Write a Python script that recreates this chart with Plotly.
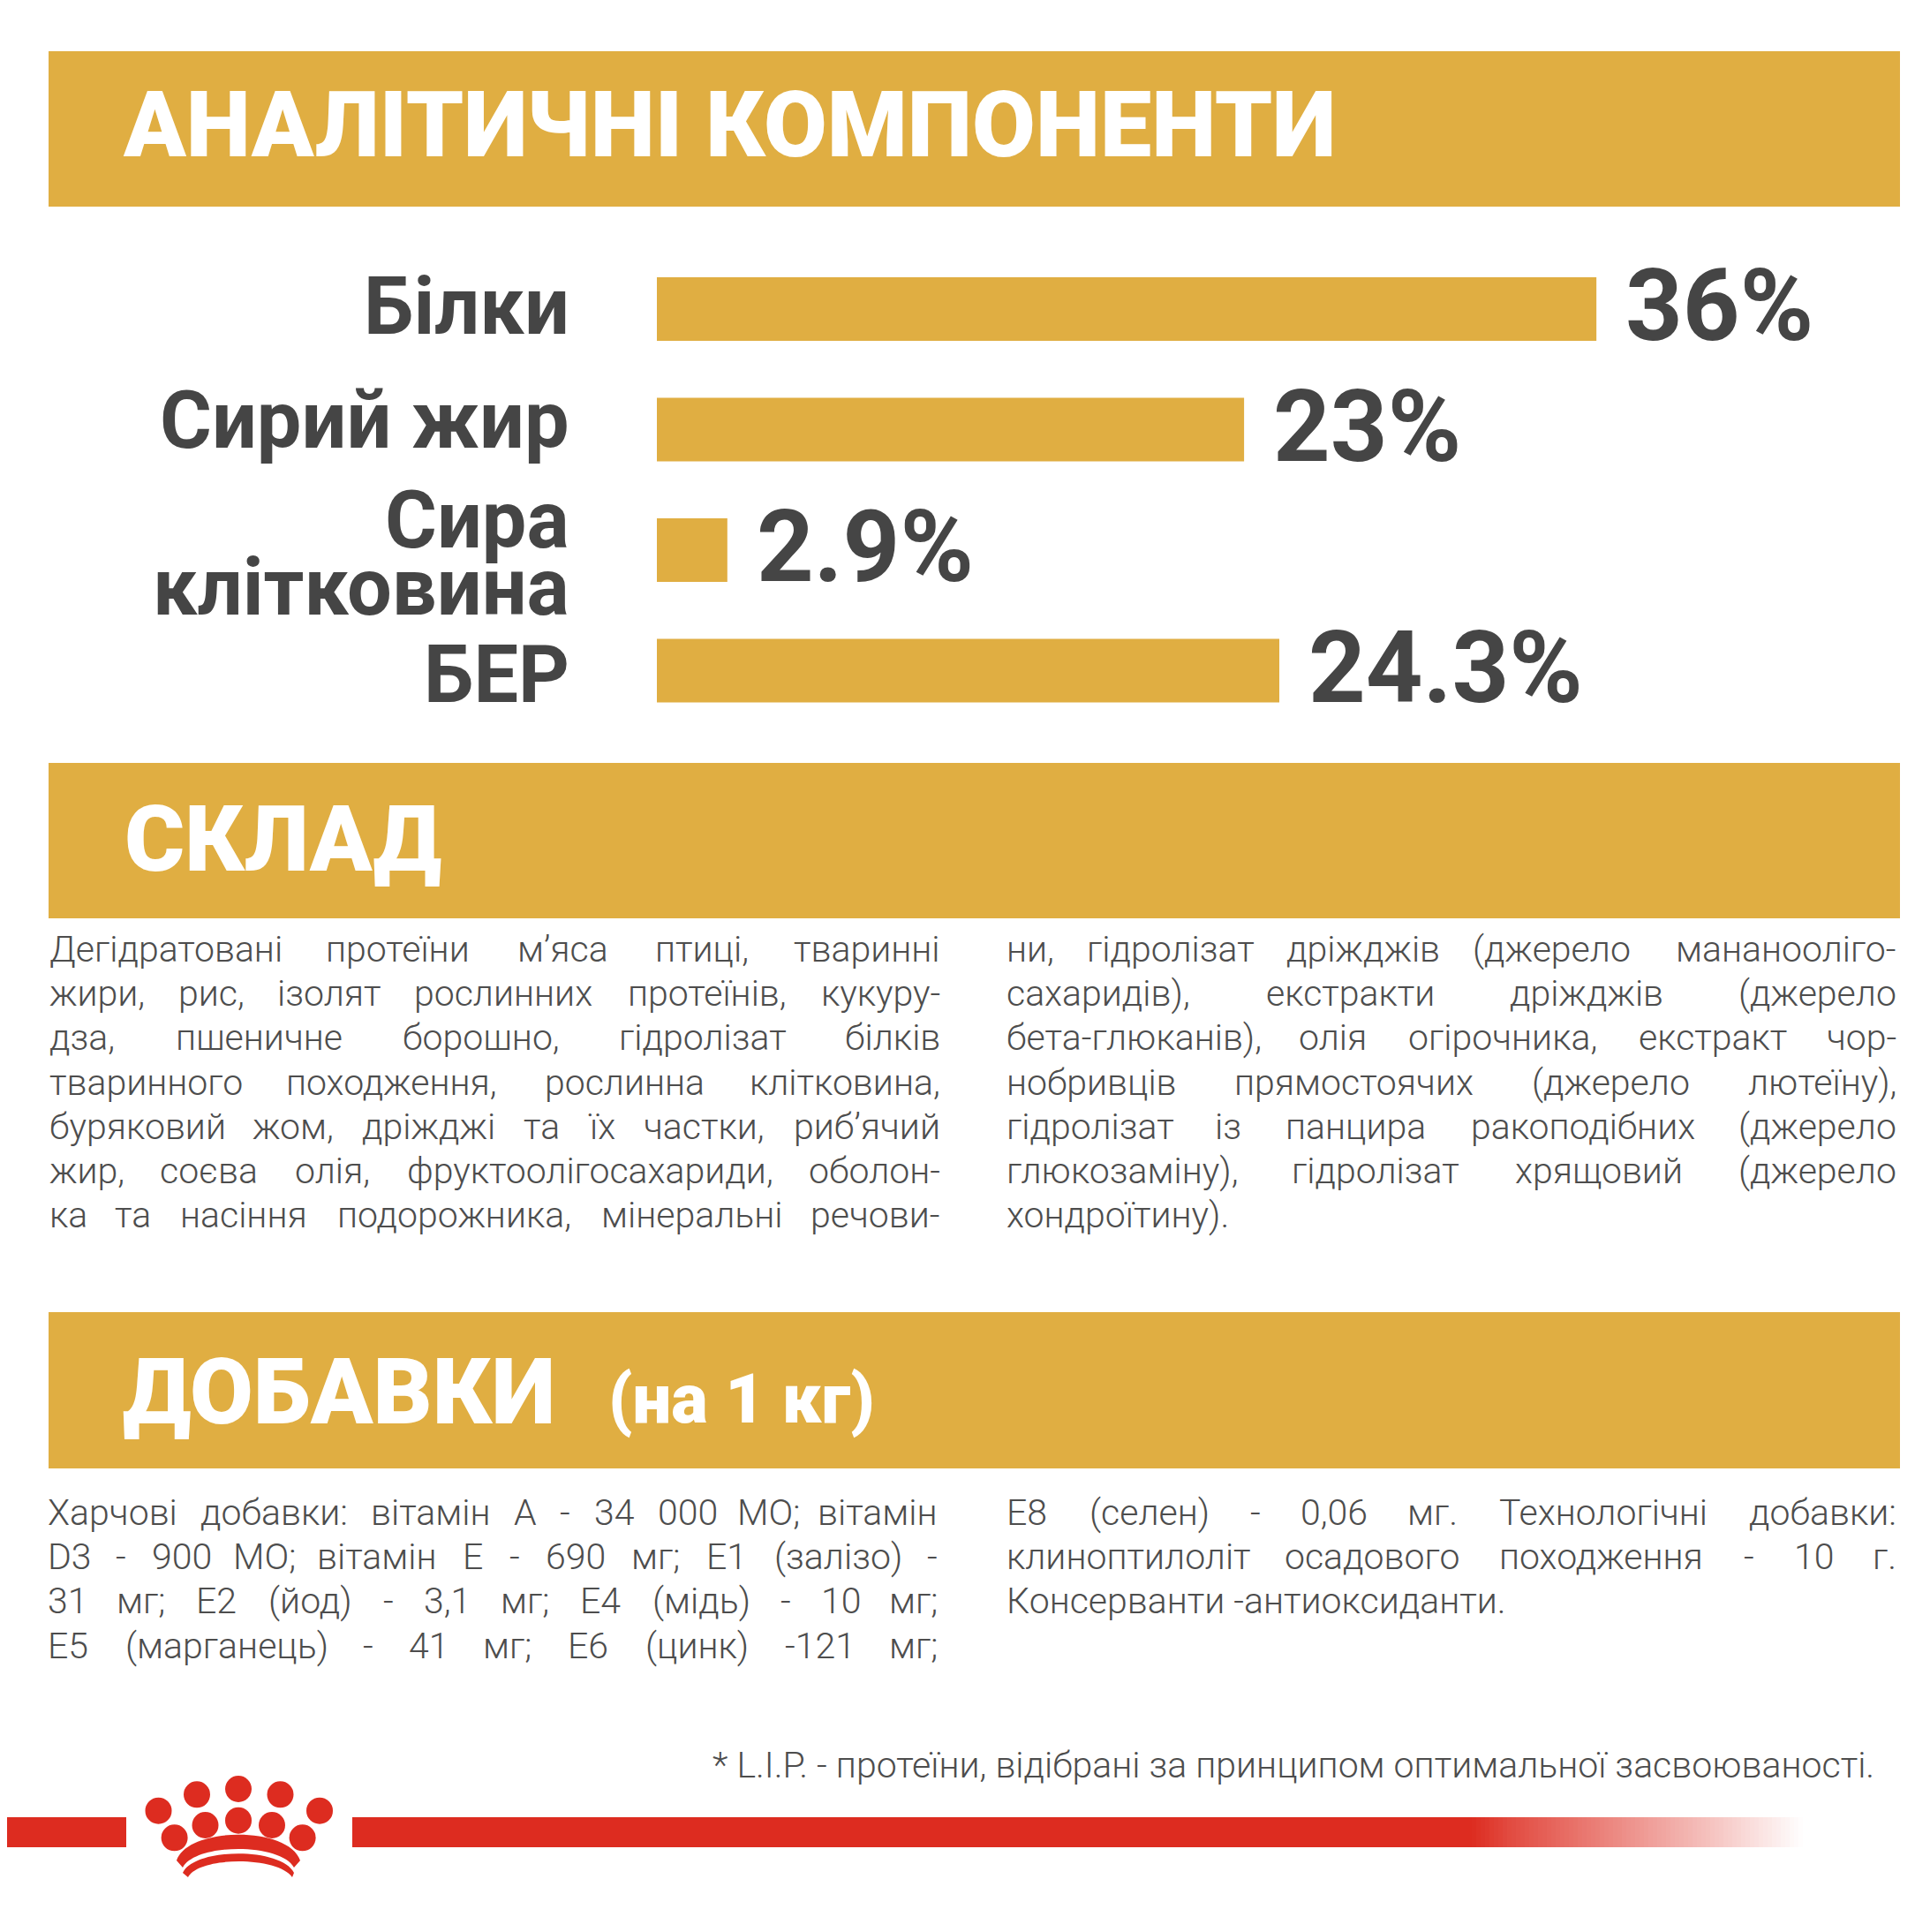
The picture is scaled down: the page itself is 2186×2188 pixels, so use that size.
import plotly.graph_objects as go

W, H = 2186, 2188
GOLD = "#e0ae42"
RED = "#dd2c20"
DARK = "#454545"
BODY = "#4d4d4d"
FONT = "Roboto"

categories = ["Білки", "Сирий жир", "Сира клітковина", "БЕР"]
category_lines = [["Білки"], ["Сирий жир"], ["Сира", "клітковина"], ["БЕР"]]
value_labels = ["36%", "23%", "2.9%", "24.3%"]
bar_lengths = [36, 22.5, 2.7, 23.85]

headers = ["АНАЛІТИЧНІ КОМПОНЕНТИ", "СКЛАД", "ДОБАВКИ"]
header_note = "(на 1 кг)"

comp_left = [
    "Дегідратовані протеїни м’яса птиці, тваринні",
    "жири, рис, ізолят рослинних протеїнів, кукуру-",
    "дза, пшеничне борошно, гідролізат білків",
    "тваринного походження, рослинна клітковина,",
    "буряковий жом, дріжджі та їх частки, риб’ячий",
    "жир, соєва олія, фруктоолігосахариди, оболон-",
    "ка та насіння подорожника, мінеральні речови-",
]
comp_right = [
    "ни, гідролізат дріжджів (джерело мананоолiго-",
    "сахаридів), екстракти дріжджів (джерело",
    "бета-глюканів), олія огірочника, екстракт чор-",
    "нобривців прямостоячих (джерело лютеїну),",
    "гідролізат із панцира ракоподібних (джерело",
    "глюкозаміну), гідролізат хрящовий (джерело",
    "хондроїтину).",
]
add_left = [
    "Харчові добавки: вітамін А - 34 000 МО; вітамін",
    "D3 - 900 МО; вітамін Е - 690 мг; Е1 (залізо) -",
    "31 мг; Е2 (йод) - 3,1 мг; Е4 (мідь) - 10 мг;",
    "Е5 (марганець) - 41 мг; Е6 (цинк) -121 мг;",
]
add_right = [
    "Е8 (селен) - 0,06 мг. Технологічні добавки:",
    "клиноптилоліт осадового походження - 10 г.",
    "Консерванти -антиоксиданти.",
]
footnote = "* L.I.P. - протеїни, відібрані за принципом оптимальної засвоюваності."


def px(x):
    return x / W


def py(y):
    return 1 - y / H


CHAR_W = dict(
    а=.54, б=.55, в=.53, г=.38, д=.57, е=.53, є=.53, ж=.74, з=.51, и=.57, і=.25, ї=.25, й=.57,
    к=.52, л=.55, м=.72, н=.57, о=.55, п=.57, р=.56, с=.52, т=.43, у=.48, ф=.72, х=.5, ц=.58,
    ч=.54, ш=.79, щ=.8, ь=.52, ю=.74, я=.53,
)
CHAR_W.update({",": .2, ".": .26, "-": .28, "(": .33, ")": .33, "’": .2, ":": .24, ";": .22})


def word_width(word, size):
    total = 0
    for c in word:
        if c in CHAR_W:
            total += CHAR_W[c]
        elif c.isdigit():
            total += .56
        else:
            total += .64
    return total * size


fig = go.Figure(
    go.Bar(
        x=bar_lengths,
        y=categories,
        orientation="h",
        marker=dict(color=GOLD, line=dict(width=0)),
        hoverinfo="skip",
    )
)

shapes = []
annotations = []


def rect(x0, y0, x1, y1, color, layer="below"):
    shapes.append(dict(type="rect", xref="paper", yref="paper", x0=px(x0), x1=px(x1),
                       y0=py(y1), y1=py(y0), fillcolor=color, line=dict(width=0), layer=layer))


def text(s, x, y, size, color, anchor="left", weight=400):
    annotations.append(dict(text=s, xref="paper", yref="paper", x=px(x), y=py(y),
                            xanchor=anchor, yanchor="middle", showarrow=False, borderpad=0,
                            font=dict(family=FONT, size=size, color=color, weight=weight)))


# Section bands
for top, bottom in [(50, 226), (856, 1032), (1478, 1655)]:
    rect(47, top, 2144, bottom, GOLD)

text(headers[0], 130, 133, 104, "#ffffff", weight=900)
text(headers[1], 132, 943, 104, "#ffffff", weight=900)
text(headers[2], 130, 1568, 104, "#ffffff", weight=900)
text(header_note, 680, 1576, 78, "#ffffff", weight=900)

# Category labels
label_centres = [[340], [468], [582, 657], [756]]
for lines, centres in zip(category_lines, label_centres):
    for line, cy in zip(lines, centres):
        text(line, 638, cy, 90, DARK, anchor="right", weight=700)

# Value labels follow the bars through the x axis
for cat, val, length in zip(categories, value_labels, bar_lengths):
    annotations.append(dict(text=val, xref="x", yref="y", x=length, y=cat, xshift=32, yshift=3,
                            xanchor="left", yanchor="middle", showarrow=False, borderpad=0,
                            font=dict(family=FONT, size=113, color=DARK, weight=700)))

BODY_SIZE = 41


def justified(lines, left, right, first_cy, justify_last):
    for i, line in enumerate(lines):
        cy = first_cy + i * 50.2
        if i == len(lines) - 1 and not justify_last:
            text(line, left, cy, BODY_SIZE, BODY, weight=300)
            continue
        words = line.split(" ")
        widths = [word_width(w, BODY_SIZE) for w in words]
        gap = (right - left - sum(widths)) / (len(words) - 1)
        cursor = left
        for j, (word, w) in enumerate(zip(words, widths)):
            if j == 0:
                text(word, left, cy, BODY_SIZE, BODY, weight=300)
            elif j == len(words) - 1:
                text(word, right, cy, BODY_SIZE, BODY, anchor="right", weight=300)
            else:
                text(word, cursor + w / 2, cy, BODY_SIZE, BODY, anchor="center", weight=300)
            cursor += w + gap


justified(comp_left, 47, 1058, 1067, True)
justified(comp_right, 1131, 2141, 1067, False)
justified(add_left, 45, 1055, 1705, True)
justified(add_right, 1131, 2141, 1705, False)
text(footnote, 2116, 1991, BODY_SIZE, BODY, anchor="right", weight=300)

# Red ribbon with fade
rect(0, 2050, 1659, 2084, RED)
fade_stops = [(1659, 1.0), (1700, .86), (1784, .65), (1924, .3), (2035, 0.0)]
STEP = 5
for x in range(1659, 2035, STEP):
    alpha = 0.0
    for (a, aa), (b, ab) in zip(fade_stops, fade_stops[1:]):
        if a <= x < b:
            alpha = max(0.0, aa + (ab - aa) * (x + STEP / 2 - a) / (b - a))
            break
    rect(x, 2050, x + STEP, 2084, f"rgba(221,44,32,{alpha:.3f})")

# Crown logo
rect(135, 2045, 391, 2090, "#ffffff")
crown_x = [262, 215, 309.5, 171.5, 354, 262, 224.5, 300, 189.6, 334.6]
crown_y = [2018, 2024.3, 2024.3, 2042.7, 2042.7, 2053.7, 2059, 2059, 2073.3, 2073.3]
R = 15
for cx, cy in zip(crown_x, crown_y):
    shapes.append(dict(type="circle", xref="paper", yref="paper", x0=px(cx - R), x1=px(cx + R),
                       y0=py(cy + R), y1=py(cy - R), fillcolor=RED, line=dict(width=0)))


def p(x, y):
    return f"{px(x):.5f},{py(y):.5f}"


for d in [
    f"M{p(192, 2099)} C{p(205, 2060)} {p(319, 2060)} {p(332, 2099)} L{p(325, 2107)} "
    f"C{p(310, 2079)} {p(214, 2079)} {p(199, 2107)} Z",
    f"M{p(199, 2113)} C{p(213, 2084)} {p(311, 2084)} {p(325, 2113)} L{p(323, 2118)} "
    f"C{p(307, 2094)} {p(217, 2094)} {p(205, 2118)} Z",
]:
    shapes.append(dict(type="path", xref="paper", yref="paper", path=d, fillcolor=RED, line=dict(width=0)))

fig.update_layout(
    width=W,
    height=H,
    margin=dict(l=0, r=0, t=0, b=0),
    paper_bgcolor="#ffffff",
    plot_bgcolor="#ffffff",
    showlegend=False,
    bargap=0.472,
    xaxis=dict(domain=[px(736), px(736 + 40 * 29.56)], range=[0, 40], visible=False),
    yaxis=dict(domain=[py(819.7), py(273.7)], range=[3.5, -0.5], type="category",
               categoryorder="array", categoryarray=categories, visible=False),
    shapes=shapes,
    annotations=annotations,
)
fig.write_html("out.html")
